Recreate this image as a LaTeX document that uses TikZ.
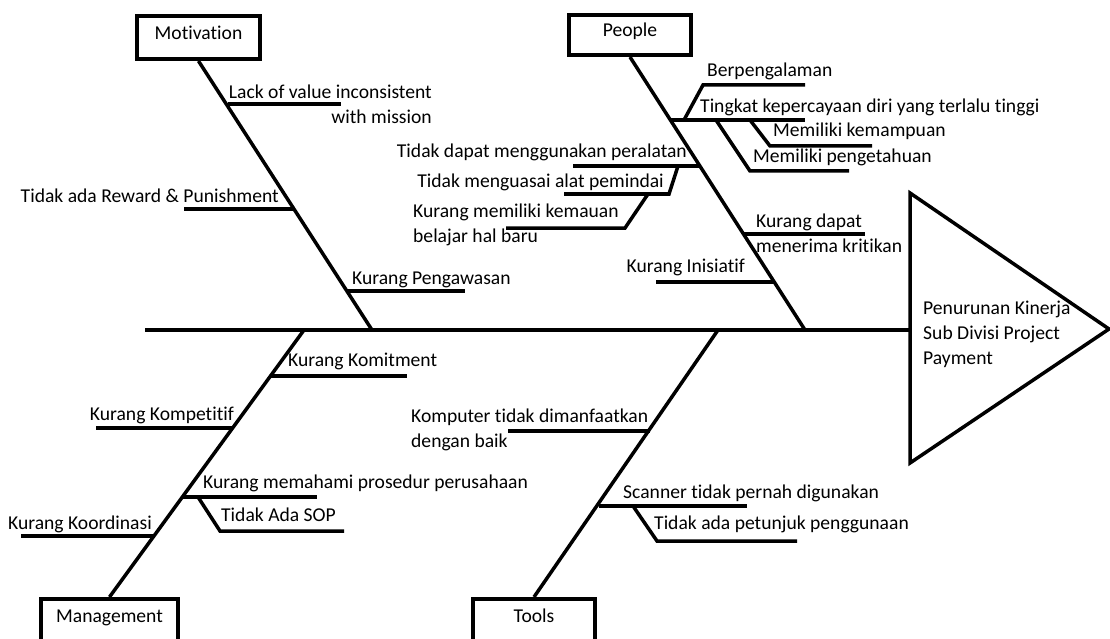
\documentclass[tikz,border=0pt]{standalone}
\usepackage{fontspec}
\setmainfont{Carlito}[Ligatures=NoCommon]
\begin{document}
\begin{tikzpicture}[x=1pt,y=-1pt,
  bone/.style={line width=3.5pt, line join=miter},
  lbl/.style={inner sep=0pt, font=\fontsize{19.6}{25}\selectfont},
  catbox/.style={draw, line width=4pt, inner sep=0pt, text height=13pt, text depth=9pt, font=\fontsize{19.6}{25}\selectfont}]
\useasboundingbox (0,0) rectangle (1110,639);
% category boxes
\node[catbox, minimum width=123pt, minimum height=43pt] (mot) at (198.5,37.5) {Motivation};
\node[catbox, minimum width=122pt, minimum height=40pt] (peo) at (630,35) {People};
\node[catbox, minimum width=137pt, minimum height=42pt] (man) at (109.5,620) {Management};
\node[catbox, minimum width=122pt, minimum height=42pt] (too) at (534,620) {Tools};
% effect triangle
\coordinate (tt) at (910,193);
\coordinate (tb) at (910,463);
\coordinate (tap) at (1109,329);
\coordinate (head) at (910,330);
\draw[bone] (tt) -- (tap) -- (tb) -- cycle;
\node[lbl, anchor=west, align=left] (eff) at (923,334) {Penurunan Kinerja\\Sub Divisi Project\\Payment};
% main line
\coordinate (tail) at (145,330);
\draw[bone] (tail) -- (head);
% spine junctions on main line
\coordinate (mj) at (372,330);
\coordinate (pj) at (805,330);
\coordinate (gj) at (304,330);
\coordinate (tj) at (718,330);
\draw[bone] (mot.south) -- (mj);
\draw[bone] (peo.south) -- (pj);
\draw[bone] (man.north) -- (gj);
\draw[bone] (too.north) -- (tj);
% ---------- Motivation ----------
\coordinate (m1) at (227.5,104);
\coordinate (m2) at (294.6,209);
\coordinate (m3) at (347.1,291);
\draw[bone] (m1) -- ++(113.5,0);
\draw[bone] (m2) -- ++(-110.6,0);
\draw[bone] (m3) -- ++(117.9,0);
\node[lbl, anchor=east, align=right] (lm1) at (432,104.5) {Lack of value inconsistent\\with mission};
\node[lbl, anchor=base east] (lm2) at (279,203) {Tidak ada Reward \& Punishment};
\node[lbl, anchor=base west] (lm3) at (352,284) {Kurang Pengawasan};
% ---------- People ----------
\coordinate (p1) at (671.2,120);
\coordinate (p2) at (700.5,166);
\coordinate (p3) at (743.8,234);
\coordinate (p4) at (774.4,282);
\draw[bone] (p1) -- ++(133.8,0);
\coordinate (p1a) at (684,120);
\coordinate (p1b) at (716,120);
\coordinate (p1c) at (750,120);
\draw[bone] (p1a) -- ++(19,-35) -- ++(102,0);
\draw[bone] (p1b) -- ++(34,51) -- ++(99,0);
\draw[bone] (p1c) -- ++(20,26) -- ++(102,0);
\node[lbl, anchor=base west] (lp1) at (707,77) {Berpengalaman};
\node[lbl, anchor=base west] (lp2) at (700,113) {Tingkat kepercayaan diri yang terlalu tinggi};
\node[lbl, anchor=base west] (lp3) at (773,137) {Memiliki kemampuan};
\node[lbl, anchor=base west] (lp4) at (753,163) {Memiliki pengetahuan};
\draw[bone] (p2) -- ++(-127.5,0);
\coordinate (p2a) at (678,166);
\draw[bone] (p2a) -- ++(-9,28) -- ++(-105,0);
\coordinate (p2b) at (648,194);
\draw[bone] (p2b) -- ++(-23,34) -- ++(-119,0);
\node[lbl, anchor=base east] (lp5) at (687,158) {Tidak dapat menggunakan peralatan};
\node[lbl, anchor=base east] (lp6) at (664,188) {Tidak menguasai alat pemindai};
\node[lbl, anchor=west, align=left] (lp7) at (413,224.5) {Kurang memiliki kemauan\\belajar hal baru};
\draw[bone] (p3) -- ++(121.2,0);
\node[lbl, anchor=west, align=left] (lp8) at (756,233) {Kurang dapat\\menerima kritikan};
\draw[bone] (p4) -- ++(-118.4,0);
\node[lbl, anchor=base east] (lp9) at (745,272) {Kurang Inisiatif};
% ---------- Management ----------
\coordinate (g1) at (270.8,376);
\coordinate (g2) at (233.2,428);
\coordinate (g3) at (183.3,497);
\coordinate (g4) at (155.1,536);
\draw[bone] (g1) -- ++(136.2,0);
\draw[bone] (g2) -- ++(-137.2,0);
\draw[bone] (g3) -- ++(133.7,0);
\coordinate (g3a) at (198,497);
\draw[bone] (g3a) -- ++(22,34) -- ++(124,0);
\draw[bone] (g4) -- ++(-134.1,0);
\node[lbl, anchor=base west] (lg1) at (288,366) {Kurang Komitment};
\node[lbl, anchor=base east] (lg2) at (234,420) {Kurang Kompetitif};
\node[lbl, anchor=base west] (lg3) at (203,488) {Kurang memahami prosedur perusahaan};
\node[lbl, anchor=base west] (lg4) at (221,521) {Tidak Ada SOP};
\node[lbl, anchor=base east] (lg5) at (152,529) {Kurang Koordinasi};
% ---------- Tools ----------
\coordinate (t1) at (649.5,431);
\coordinate (t2) at (598.7,506);
\draw[bone] (t1) -- ++(-141.5,0);
\draw[bone] (t2) -- ++(148.3,0);
\coordinate (t2a) at (633,506);
\draw[bone] (t2a) -- ++(24,35) -- ++(140,0);
\node[lbl, anchor=west, align=left] (lt1) at (411,429.5) {Komputer tidak dimanfaatkan\\dengan baik};
\node[lbl, anchor=base west] (lt2) at (623,498) {Scanner tidak pernah digunakan};
\node[lbl, anchor=base west] (lt3) at (654,529) {Tidak ada petunjuk penggunaan};
\end{tikzpicture}
\end{document}
